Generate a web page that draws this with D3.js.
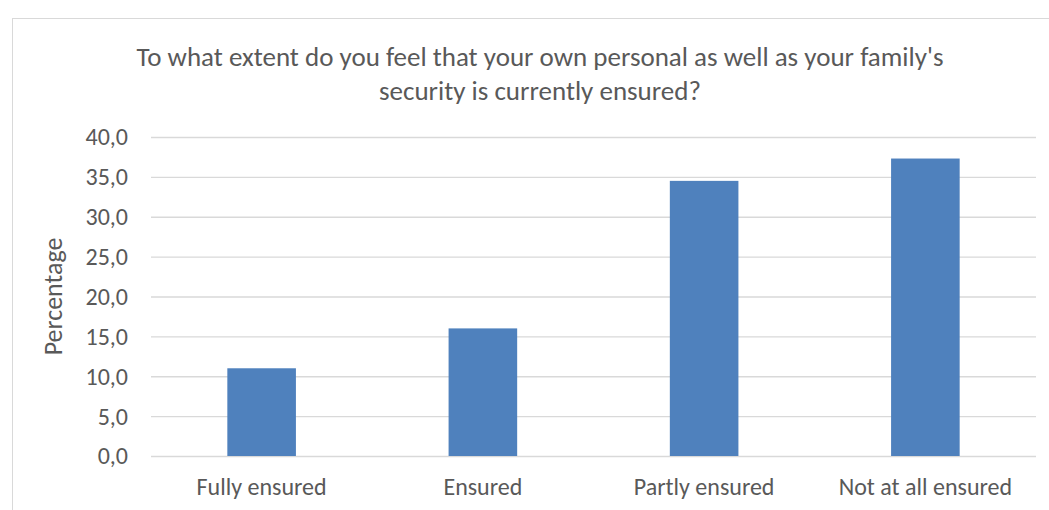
<!DOCTYPE html>
<html>
<head>
<meta charset="utf-8">
<script src="https://cdn.jsdelivr.net/npm/d3@7"></script>
<style>
  body { margin: 0; background: #fff; }
  svg { display: block; font-family: Calibri, Carlito, Lato, sans-serif; }
</style>
</head>
<body>
<svg width="1049" height="510"></svg>
<script>
var width = 1049;
var height = 510;

// data
var categories = ["Fully ensured", "Ensured", "Partly ensured", "Not at all ensured"];
var values = [11.0, 16.0, 34.5, 37.3];
var yTicks = [0, 5, 10, 15, 20, 25, 30, 35, 40];
var titleLines = ["To what extent do you feel that your own personal as well as your family's",
                  "security is currently ensured?"];

var svg = d3.select("svg");
var textColor = "#595959";

// chart border
svg.append("rect")
    .attr("x", 12.5).attr("y", 18.5)
    .attr("width", 1060).attr("height", 520)
    .attr("fill", "none")
    .attr("stroke", "#d9d9d9");

var plotLeft = 151, plotRight = 1036, plotTop = 137, plotBottom = 456;

var x = d3.scaleBand()
    .domain(categories)
    .range([plotLeft, plotRight])
    .paddingInner(0.69)
    .paddingOuter(0.345);

var y = d3.scaleLinear()
    .domain([0, 40])
    .range([plotBottom, plotTop]);

// gridlines
svg.append("g")
    .selectAll("line")
    .data(yTicks)
    .join("line")
    .attr("x1", plotLeft).attr("x2", plotRight)
    .attr("y1", d => y(d) + 0.5).attr("y2", d => y(d) + 0.5)
    .attr("stroke", "#d9d9d9")
    .attr("stroke-width", 1.3);

// y tick labels
svg.append("g")
    .selectAll("text")
    .data(yTicks)
    .join("text")
    .attr("x", 128)
    .attr("y", d => y(d))
    .attr("dy", "0.35em")
    .attr("text-anchor", "end")
    .attr("fill", textColor)
    .style("font-size", "24px")
    .text(d => d.toFixed(1).replace(".", ","));

// bars
svg.append("g")
    .selectAll("rect")
    .data(values)
    .join("rect")
    .attr("x", (d, i) => x(categories[i]))
    .attr("y", d => y(d))
    .attr("width", x.bandwidth())
    .attr("height", d => y(0) - y(d))
    .attr("fill", "#4f81bd");

// category labels
svg.append("g")
    .selectAll("text")
    .data(categories)
    .join("text")
    .attr("x", d => x(d) + x.bandwidth() / 2)
    .attr("y", 495)
    .attr("text-anchor", "middle")
    .attr("fill", textColor)
    .style("font-size", "24px")
    .text(d => d);

// y axis title
svg.append("text")
    .attr("transform", "translate(62," + ((plotTop + plotBottom) / 2) + ") rotate(-90)")
    .attr("text-anchor", "middle")
    .attr("fill", textColor)
    .style("font-size", "26px")
    .text("Percentage");

// chart title
svg.append("g")
    .selectAll("text")
    .data(titleLines)
    .join("text")
    .attr("x", 540)
    .attr("y", (d, i) => 66 + i * 34)
    .attr("text-anchor", "middle")
    .attr("fill", textColor)
    .style("font-size", "27px")
    .text(d => d);
</script>
</body>
</html>
